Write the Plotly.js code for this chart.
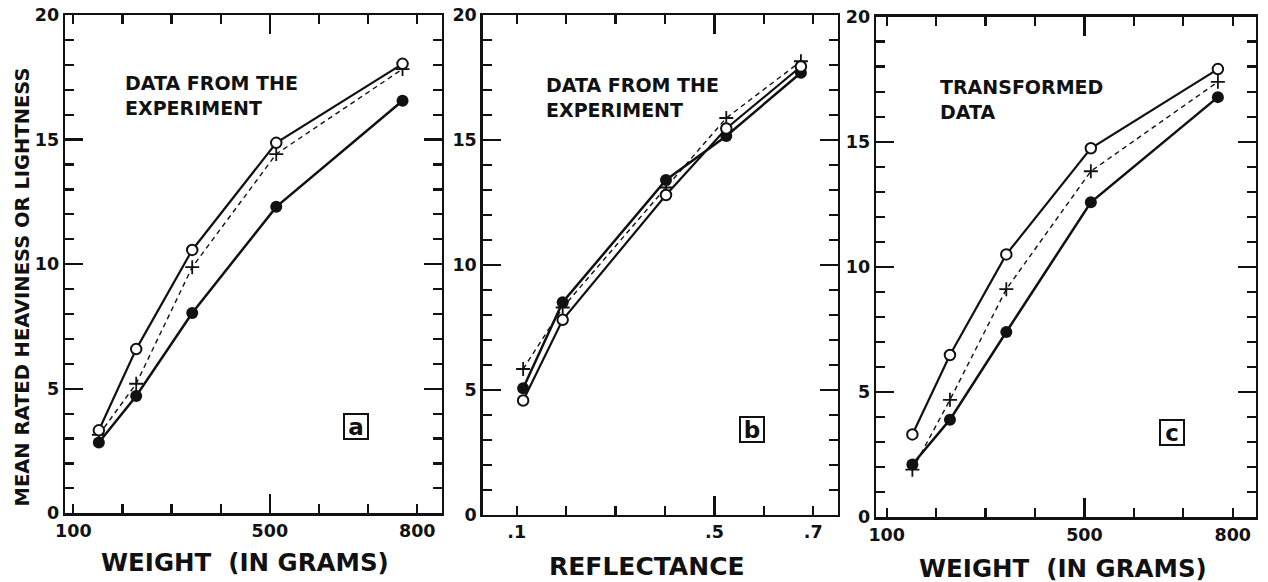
<!DOCTYPE html>
<html>
<head>
<meta charset="utf-8">
<script src="https://cdn.plot.ly/plotly-3.0.1.min.js"></script>
<style>html,body{margin:0;padding:0;background:#fff;}#chart{width:1268px;height:582px;}</style>
</head>
<body>
<div id="chart"></div>
<script>
// ---- data ----
const weightGrams = [152, 228, 342, 513, 770];
const reflectance = [0.113, 0.193, 0.402, 0.524, 0.675];

const aOpen   = [3.33, 6.59, 10.57, 14.87, 18.04];
const aFilled = [2.84, 4.71, 8.04, 12.30, 16.56];
const aPlus   = [3.15, 5.20, 9.88, 14.42, 17.83];

const bOpen   = [4.58, 7.81, 12.80, 15.46, 17.94];
const bFilled = [5.07, 8.51, 13.40, 15.16, 17.69];
const bPlus   = [5.84, 8.30, 13.10, 15.88, 18.15];

const cOpen   = [3.31, 6.48, 10.50, 14.74, 17.90];
const cFilled = [2.11, 3.90, 7.40, 12.58, 16.78];
const cPlus   = [1.90, 4.69, 9.11, 13.82, 17.39];

const weightTickVals = [100, 500, 800];
const weightTickText = ['100', '500', '800'];
const weightMinor = [200, 300, 400, 600, 700];
const reflTickVals = [0.1, 0.5, 0.7];
const reflTickText = ['.1', '.5', '.7'];
const reflMinor = [0.2, 0.3, 0.4, 0.6];
const longTickWeight = [500];
const longTickRefl = [0.5];

const panelTexts = ['DATA FROM THE<br>EXPERIMENT', 'DATA FROM THE<br>EXPERIMENT', 'TRANSFORMED<br>DATA'];
const panelLetters = ['a', 'b', 'c'];
const yTitle = 'MEAN RATED HEAVINESS OR LIGHTNESS';
const xTitles = ['WEIGHT\u00A0\u00A0(IN GRAMS)', 'REFLECTANCE', 'WEIGHT\u00A0\u00A0(IN GRAMS)'];

// ---- layout helpers ----
const W = 1268, H = 582;
const px = x => x / W;
const py = y => 1 - y / H;
const FONT = 'DejaVu Sans, Arial, sans-serif';
const INK = '#111';
const f = (size) => ({family: FONT, size: size, color: INK, weight: 'bold'});

const frames = [
  {x0: 65,    x1: 441.7, y0: 15,   y1: 513.3, range: [83.1, 849.7]},
  {x0: 482.7, x1: 837.7, y0: 15,   y1: 515,   range: [0.0312, 0.7494]},
  {x0: 876,   x1: 1256,  y0: 16.5, y1: 517.3, range: [78.4, 847.1]}
];

function seriesTraces(xs, open, filled, plus, xa, ya) {
  return [
    {x: xs, y: plus, xaxis: xa, yaxis: ya, type: 'scatter', mode: 'lines+markers',
     line: {color: INK, width: 1.4, dash: '5px,4px'},
     marker: {symbol: 'cross-thin', size: 10, line: {color: INK, width: 1.8}}, hoverinfo: 'skip'},
    {x: xs, y: filled, xaxis: xa, yaxis: ya, type: 'scatter', mode: 'lines+markers',
     line: {color: INK, width: 2.5},
     marker: {symbol: 'circle', size: 12, color: INK, line: {color: INK, width: 0}}, hoverinfo: 'skip'},
    {x: xs, y: open, xaxis: xa, yaxis: ya, type: 'scatter', mode: 'lines+markers',
     line: {color: INK, width: 2.2},
     marker: {symbol: 'circle', size: 10.5, color: '#fff', line: {color: INK, width: 2}}, hoverinfo: 'skip'}
  ];
}

const data = [].concat(
  seriesTraces(weightGrams, aOpen, aFilled, aPlus, 'x', 'y'),
  seriesTraces(reflectance, bOpen, bFilled, bPlus, 'x2', 'y2'),
  seriesTraces(weightGrams, cOpen, cFilled, cPlus, 'x3', 'y3'),
  [
    {x: [], y: [], xaxis: 'x4', yaxis: 'y', type: 'scatter', hoverinfo: 'skip'},
    {x: [], y: [], xaxis: 'x5', yaxis: 'y2', type: 'scatter', hoverinfo: 'skip'},
    {x: [], y: [], xaxis: 'x6', yaxis: 'y3', type: 'scatter', hoverinfo: 'skip'}
  ]
);

const layout = {
  width: W, height: H,
  margin: {l: 0, r: 0, t: 0, b: 0, pad: 0},
  paper_bgcolor: '#fff', plot_bgcolor: '#fff',
  showlegend: false,
  font: f(18),
  annotations: []
};

frames.forEach((fr, i) => {
  const n = i === 0 ? '' : String(i + 1);
  const isRefl = i === 1;
  layout['xaxis' + n] = {
    domain: [px(fr.x0), px(fr.x1)], range: fr.range, anchor: 'y' + n,
    tickmode: 'array',
    tickvals: isRefl ? reflTickVals : weightTickVals,
    ticktext: isRefl ? reflTickText : weightTickText,
    ticks: 'inside', ticklen: 9, tickwidth: 2.2, tickcolor: INK,
    minor: {tickmode: 'array', tickvals: isRefl ? reflMinor : weightMinor,
            ticks: 'inside', ticklen: 9, tickwidth: 2.2, tickcolor: INK, showgrid: false},
    showline: true, linewidth: 2.4, linecolor: INK, mirror: 'ticks',
    showgrid: false, zeroline: false, fixedrange: true,
    tickfont: f(17.5)
  };
  layout['yaxis' + n] = {
    domain: [py(fr.y1), py(fr.y0)], range: [0, 20], anchor: 'x' + n,
    tickmode: 'linear', tick0: 0, dtick: 5,
    ticks: 'inside', ticklen: 18, tickwidth: 2.2, tickcolor: INK,
    minor: {tickmode: 'linear', tick0: 0, dtick: 1, ticks: 'inside', ticklen: 9,
            tickwidth: 2.2, tickcolor: INK, showgrid: false},
    showline: true, linewidth: 2.4, linecolor: INK, mirror: 'ticks',
    showgrid: false, zeroline: false, fixedrange: true,
    tickfont: f(17.5)
  };
  // overlay axis carrying the single long tick at the mid label
  layout['xaxis' + (i + 4)] = {
    overlaying: 'x' + n, anchor: 'y' + n, side: 'bottom', range: fr.range,
    tickmode: 'array', tickvals: isRefl ? longTickRefl : longTickWeight,
    ticks: 'inside', ticklen: 19, tickwidth: 2.2, tickcolor: INK,
    showticklabels: false, showline: false, mirror: 'ticks',
    showgrid: false, zeroline: false, fixedrange: true
  };
});

// in-panel captions
const captionPos = [[123, 95.5], [544, 97.5], [938, 99.6]];
const letterPos = [[356.2, 426.7], [751.5, 429.7], [1172, 432.7]];
const xTitlePos = [[245, 562.5], [646.7, 566], [1062.5, 568]];
for (let i = 0; i < 3; i++) {
  layout.annotations.push({
    xref: 'paper', yref: 'paper', x: px(captionPos[i][0]), y: py(captionPos[i][1]),
    xanchor: 'left', yanchor: 'middle', align: 'left', showarrow: false,
    text: panelTexts[i], font: f(19)
  });
  layout.annotations.push({
    xref: 'paper', yref: 'paper', x: px(letterPos[i][0]), y: py(letterPos[i][1]),
    xanchor: 'center', yanchor: 'middle', showarrow: false,
    text: panelLetters[i], font: f(23), width: 22, height: 23,
    bordercolor: INK, borderwidth: 2, borderpad: 0, bgcolor: '#fff'
  });
  layout.annotations.push({
    xref: 'paper', yref: 'paper', x: px(xTitlePos[i][0]), y: py(xTitlePos[i][1]),
    xanchor: 'center', yanchor: 'middle', showarrow: false,
    text: xTitles[i], font: f(i === 1 ? 25 : 24.5)
  });
}
layout.annotations.push({
  xref: 'paper', yref: 'paper', x: px(21.5), y: py(287),
  xanchor: 'center', yanchor: 'middle', showarrow: false, textangle: -90,
  text: yTitle, font: f(19.5)
});

Plotly.newPlot('chart', data, layout, {staticPlot: true, displayModeBar: false});
</script>
</body>
</html>
